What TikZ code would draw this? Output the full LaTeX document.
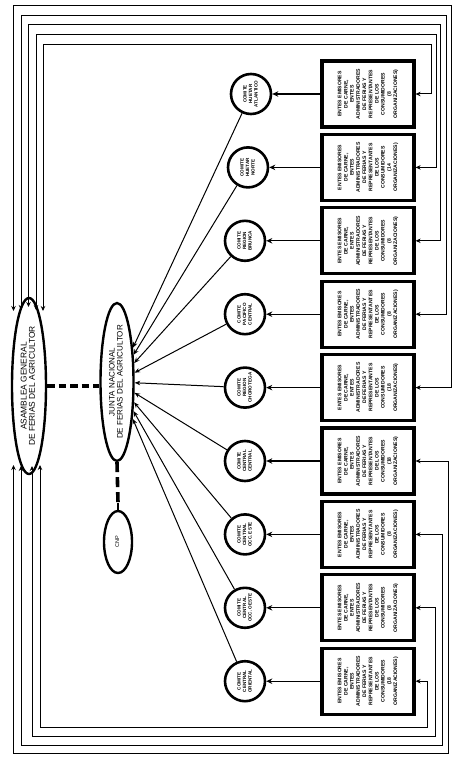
\documentclass[tikz,border=0pt]{standalone}
\usepackage{fontspec}
\setmainfont{Liberation Sans}
\usepackage{graphicx}
\usetikzlibrary{arrows.meta,shapes.geometric}

\newcommand{\rtx}[2]{\rotatebox{90}{#1\begin{tabular}{@{}c@{}}#2\end{tabular}}}
\newcommand{\entes}[1]{\rtx{\fontsize{5.1}{6.2}\selectfont\bfseries}{ENTES EMISORES\\DE CARNE,\\ENTES\\ADMINISTRADORES\\DE FERIAS Y\\REPRESENTANTES\\DE LOS\\CONSUMIDORES\\(#1\\ORGANIZACIONES)}}
\newcommand{\comi}[1]{\rtx{\fontsize{4.6}{5.6}\selectfont\bfseries}{COMITE\\#1}}

\tikzset{
  entebox/.style={draw, line width=3.2pt, minimum width=92, minimum height=66, inner sep=0pt},
  comite/.style={draw, circle, line width=2.6pt, minimum size=40, inner sep=0pt},
  bigell/.style={draw, ellipse, line width=2.4pt, inner sep=-4pt},
  arr/.style={line width=1.2pt, -{Stealth[length=6pt,width=5.5pt]}},
  thinarr/.style={line width=1pt, -{Stealth[length=5.5pt,width=4.5pt]}},
  frm/.style={line width=1pt, {Stealth[length=5pt,width=4.5pt]}-{Stealth[length=5pt,width=4.5pt]}},
  dsh/.style={line width=3.6pt, dash pattern=on 7.5pt off 4pt},
  vdsh/.style={line width=3.6pt, dash pattern=on 10pt off 5pt},
}

\begin{document}
\begin{tikzpicture}[x=1pt,y=-1pt]
\useasboundingbox (0,0) rectangle (453,759);

% main ellipses
\node[bigell, minimum width=34, minimum height=176] (asam) at (29,386)
  {\rtx{\fontsize{8.4}{7.8}\selectfont}{ASAMBLEA GENERAL\\DE FERIAS DEL AGRICULTOR}};
\node[bigell, minimum width=33, minimum height=158] (junta) at (117,382)
  {\rtx{\fontsize{8}{7.6}\selectfont}{JUNTA NACIONAL\\DE FERIAS DEL AGRICULTOR}};
\node[draw, ellipse, line width=2.4pt, inner sep=0pt, minimum width=28, minimum height=62] (cnp) at (118,542)
  {\rtx{\fontsize{5.5}{6}\selectfont}{CNP}};

% boxes
\node[entebox] (b1) at (368,94)    {\entes{8}};
\node[entebox] (b2) at (368,167.4) {\entes{14}};
\node[entebox] (b3) at (368,240.8) {\entes{8}};
\node[entebox] (b4) at (368,314.2) {\entes{8}};
\node[entebox] (b5) at (368,387.6) {\entes{18}};
\node[entebox] (b6) at (368,461)   {\entes{18}};
\node[entebox] (b7) at (368,534.4) {\entes{8}};
\node[entebox] (b8) at (368,607.8) {\entes{8}};
\node[entebox] (b9) at (368,681.2) {\entes{18}};

% committees
\node[comite] (c1) at (251,94)    {\comi{HUETAR\\ATLANTICO}};
\node[comite] (c2) at (248,167.4) {\comi{HUETAR\\NORTE}};
\node[comite] (c3) at (245,240.8) {\comi{REGION\\BRUNCA}};
\node[comite] (c4) at (245,314.2) {\comi{PACIFICO\\CENTRAL}};
\node[comite] (c5) at (245,387.6) {\comi{REGION\\CHOROTEGA}};
\node[comite] (c6) at (245,461)   {\comi{CENTRAL\\CENTRAL}};
\node[comite] (c7) at (245,534.4) {\comi{CENTRAL\\OCC. ESTE}};
\node[comite] (c8) at (245,607.8) {\comi{CENTRAL\\OCC. OESTE}};
\node[comite] (c9) at (245,681.2) {\comi{CENTRAL\\ORIENTAL}};

\foreach \i in {1,...,9} {
  \draw[arr] (b\i) -- (c\i);
  \draw[thinarr] (c\i) -- (junta);
}

% dashed links
\draw[dsh] (asam.east) -- (asam.east -| junta.west);
\coordinate (cnpstub) at ([yshift=7pt]cnp.north);
\draw[vdsh] (junta.south) -- (cnpstub);
\draw[line width=1.2pt] (cnpstub) -- (cnp.north);

% frame connectors, upper group
\coordinate (t1) at (43,311);
\coordinate (t2) at (36,310);
\coordinate (t3) at (28.5,307);
\coordinate (t4) at (21,310);
\coordinate (t5) at (13.5,311);
\draw[frm] (t1) |- (431,45)   |- (b1.east);
\draw[frm] (t2) |- (436,35)   |- (b2.east);
\draw[frm] (t3) |- (440,25)   |- (b3.east);
\draw[frm] (t4) |- (446,15.5) |- (b4.east);
\draw[frm] (t5) |- (451,6)    |- (b5.east);

% frame connectors, lower group
\coordinate (u9) at (40,465);
\coordinate (u8) at (32,466);
\coordinate (u7) at (21,466);
\coordinate (u6) at (13.5,465);
\draw[frm] (u9) |- (427,727) |- (b9.east);
\draw[frm] (u8) |- (435,736) |- (b8.east);
\draw[frm] (u7) |- (442,745) |- (b7.east);
\draw[frm] (u6) |- (448,753) |- (b6.east);
\end{tikzpicture}
\end{document}
